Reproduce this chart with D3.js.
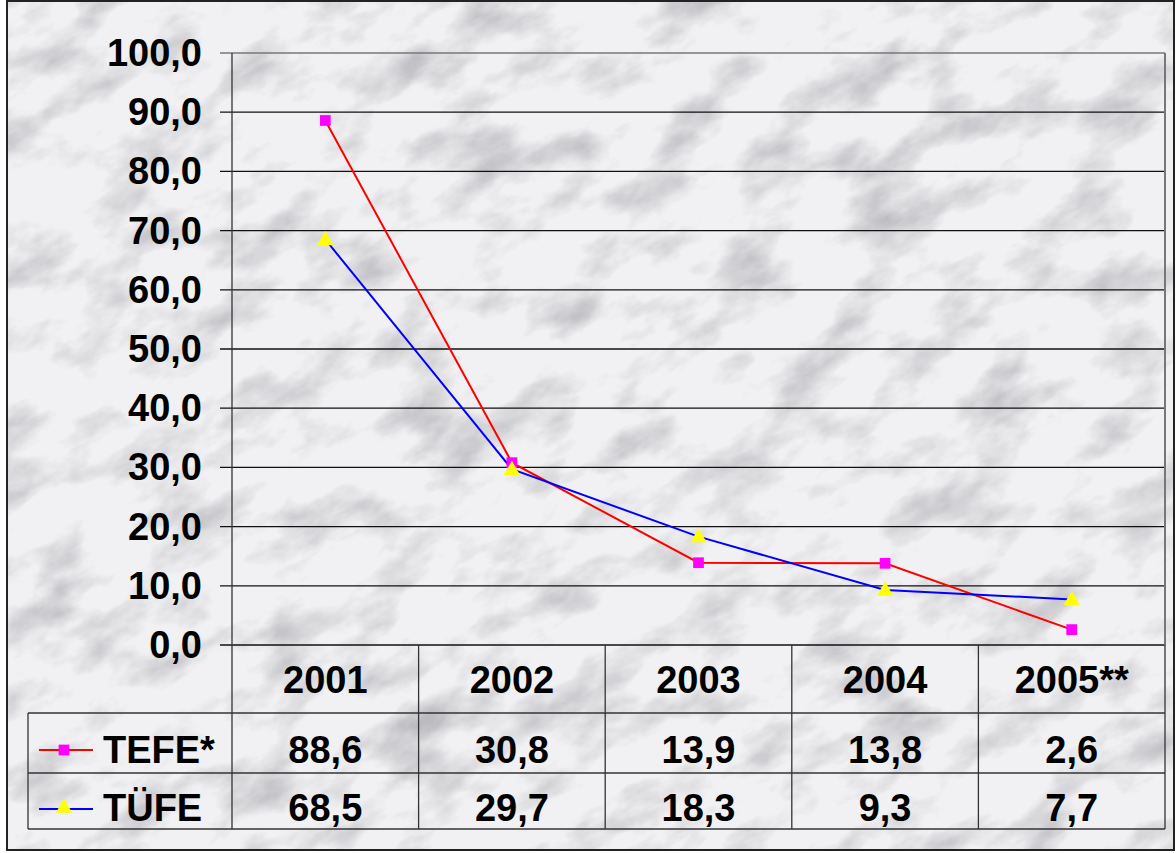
<!DOCTYPE html>
<html>
<head>
<meta charset="utf-8">
<script src="https://cdn.jsdelivr.net/npm/d3@7"></script>
<style>
  body { margin: 0; background: #fff; }
  text { font-family: "Liberation Sans", Arial, Helvetica, sans-serif; font-weight: bold; fill: #000; }
</style>
</head>
<body>
<script>
// data
var years = ["2001", "2002", "2003", "2004", "2005**"];
var tefe = [88.6, 30.8, 13.9, 13.8, 2.6];
var tufe = [68.5, 29.7, 18.3, 9.3, 7.7];
var yTicks = [0, 10, 20, 30, 40, 50, 60, 70, 80, 90, 100];
var seriesNames = ["TEFE*", "TÜFE"];

var W = 1176, H = 853;
var plotLeft = 232, plotRight = 1165, plotTop = 53, plotBottom = 645;
var rowLines = [645, 713, 773, 829];
var tableLeft = 28;
var fontSize = 38;

var svg = d3.select("body").append("svg")
    .attr("width", W)
    .attr("height", H);

// marble background
var defs = svg.append("defs");
var f = defs.append("filter").attr("id", "marble")
    .attr("x", 0).attr("y", 0).attr("width", 1).attr("height", 1);
f.append("feTurbulence")
    .attr("type", "fractalNoise")
    .attr("baseFrequency", "0.012 0.022")
    .attr("numOctaves", 5)
    .attr("seed", 7);
f.append("feColorMatrix")
    .attr("type", "matrix")
    .attr("values", "0 0 0 0 0.5  0 0 0 0 0.5  0 0 0 0 0.53  2.4 0 0 0 -1.12");

svg.append("rect")
    .attr("x", 7).attr("y", 1)
    .attr("width", 1167).attr("height", 849)
    .attr("fill", "#f1f1f3");

var clip = defs.append("clipPath").attr("id", "frameclip");
clip.append("rect").attr("x", 7).attr("y", 1).attr("width", 1167).attr("height", 849);

svg.append("g")
    .attr("clip-path", "url(#frameclip)")
  .append("rect")
    .attr("x", -400).attr("y", -400)
    .attr("width", 2000).attr("height", 1700)
    .attr("transform", "rotate(-28 588 426)")
    .attr("filter", "url(#marble)");

svg.append("rect")
    .attr("x", 7).attr("y", 1)
    .attr("width", 1167).attr("height", 849)
    .attr("fill", "none")
    .attr("stroke", "#222")
    .attr("stroke-width", 2);

// scales
var x = d3.scaleBand().domain(years).range([plotLeft, plotRight]).padding(0);
var y = d3.scaleLinear().domain([0, 100]).range([plotBottom, plotTop]);
var fmt = function (v) { return d3.format(".1f")(v).replace(".", ","); };

// gridlines and ticks
svg.append("g").selectAll("line")
    .data(yTicks)
    .enter()
    .append("line")
    .attr("x1", plotLeft - 12)
    .attr("x2", plotRight)
    .attr("y1", function (d) { return y(d); })
    .attr("y2", function (d) { return y(d); })
    .attr("stroke", function (d) { return d === 100 ? "#777" : "#111"; })
    .attr("stroke-width", 1.3);

svg.append("g").selectAll("text")
    .data(yTicks)
    .enter()
    .append("text")
    .attr("x", 202)
    .attr("y", function (d) { return y(d) + 13; })
    .attr("text-anchor", "end")
    .attr("font-size", fontSize)
    .text(fmt);

// plot frame right side
svg.append("line")
    .attr("x1", plotRight).attr("x2", plotRight)
    .attr("y1", plotTop).attr("y2", plotBottom)
    .attr("stroke", "#777").attr("stroke-width", 2);

// data table grid
var tg = svg.append("g").attr("stroke", "#333").attr("stroke-width", 1.3);
rowLines.slice(1).forEach(function (ly) {
    tg.append("line").attr("x1", tableLeft).attr("x2", plotRight).attr("y1", ly).attr("y2", ly);
});
tg.append("line").attr("x1", tableLeft).attr("x2", tableLeft).attr("y1", rowLines[1]).attr("y2", rowLines[3]);
tg.append("line").attr("x1", plotLeft).attr("x2", plotLeft).attr("y1", plotTop).attr("y2", rowLines[3]);
years.forEach(function (yr, i) {
    var bx = x(yr) + x.bandwidth();
    tg.append("line").attr("x1", bx).attr("x2", bx)
        .attr("y1", rowLines[0]).attr("y2", rowLines[3]);
});

// header years
svg.append("g").selectAll("text")
    .data(years)
    .enter()
    .append("text")
    .attr("x", function (d) { return x(d) + x.bandwidth() / 2; })
    .attr("y", 693)
    .attr("text-anchor", "middle")
    .attr("font-size", fontSize)
    .text(function (d) { return d; });

var series = [
    { name: seriesNames[0], values: tefe, line: "#ff0000", marker: "#ff00ff", shape: d3.symbolSquare, size: 115, base: 763, legendY: 750 },
    { name: seriesNames[1], values: tufe, line: "#0000ff", marker: "#ffff00", shape: d3.symbolTriangle, size: 115, base: 821, legendY: 809 }
];

series.forEach(function (s) {
    var pts = years.map(function (yr, i) { return [x(yr) + x.bandwidth() / 2, y(s.values[i])]; });
    svg.append("path")
        .attr("d", d3.line()(pts))
        .attr("fill", "none")
        .attr("stroke", s.line)
        .attr("stroke-width", 2);
});

series.forEach(function (s) {
    var sym = d3.symbol().type(s.shape).size(s.size);
    svg.append("g").selectAll("path")
        .data(s.values)
        .enter()
        .append("path")
        .attr("d", sym)
        .attr("transform", function (d, i) {
            return "translate(" + (x(years[i]) + x.bandwidth() / 2) + "," + (y(d) + (s.shape === d3.symbolTriangle ? 1 : 0)) + ")";
        })
        .attr("fill", s.marker);

    // table row values
    svg.append("g").selectAll("text")
        .data(s.values)
        .enter()
        .append("text")
        .attr("x", function (d, i) { return x(years[i]) + x.bandwidth() / 2; })
        .attr("y", s.base)
        .attr("text-anchor", "middle")
        .attr("font-size", fontSize)
        .text(fmt);

    // legend key in table
    svg.append("line")
        .attr("x1", 39).attr("x2", 93)
        .attr("y1", s.legendY).attr("y2", s.legendY)
        .attr("stroke", s.line).attr("stroke-width", 2);
    svg.append("path")
        .attr("d", sym)
        .attr("transform", "translate(64," + (s.legendY + (s.shape === d3.symbolTriangle ? -1 : 0)) + ")")
        .attr("fill", s.marker);
    svg.append("text")
        .attr("x", 103)
        .attr("y", s.base)
        .attr("font-size", fontSize)
        .text(s.name);
});
</script>
</body>
</html>
